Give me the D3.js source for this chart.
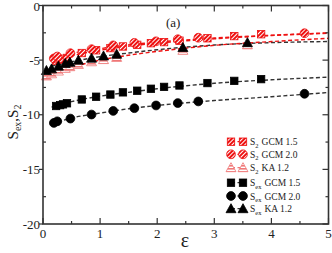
<!DOCTYPE html>
<html>
<head>
<meta charset="utf-8">
<script src="https://cdn.jsdelivr.net/npm/d3@7"></script>
<style>
  body { margin: 0; background: #fff; }
  svg text { font-family: "Liberation Serif", "DejaVu Serif", serif; fill: #222; }
</style>
</head>
<body>
<svg id="chart" width="332" height="253"></svg>
<script>
// ---- data ----
var xTicks = [0, 1, 2, 3, 4, 5];
var yTicks = [0, -5, -10, -15, -20];

// GCM 1.5 (squares)
var epsSq = [0.23, 0.30, 0.35, 0.42, 0.68, 0.93, 1.18, 1.40, 1.65, 1.89, 2.12, 2.39, 2.88, 3.35, 3.82];
var sexSq = [-9.2, -9.12, -9.05, -8.95, -8.6, -8.35, -8.15, -7.95, -7.8, -7.62, -7.45, -7.32, -7.1, -6.9, -6.74];
var s2Sq  = [-5.05, -4.95, -4.88, -4.8, -4.35, -4.1, -3.9, -3.75, -3.6, -3.45, -3.35, -3.22, -3.0, -2.8, -2.63];

// GCM 2.0 (circles)
var epsCi = [0.19, 0.25, 0.48, 0.85, 1.23, 1.6, 1.98, 2.36, 2.72, 4.58];
var sexCi = [-10.75, -10.6, -10.35, -9.98, -9.65, -9.4, -9.15, -8.93, -8.78, -8.08];
var s2Ci  = [-4.85, -4.67, -4.37, -4.0, -3.65, -3.42, -3.28, -3.09, -2.95, -2.54];

// KA 1.2 (triangles)
var epsTr = [0.06, 0.15, 0.27, 0.39, 0.47, 0.62, 0.85, 1.06, 1.29, 2.45, 3.58];
var sexTr = [-5.95, -5.8, -5.55, -5.3, -5.2, -5.0, -4.82, -4.62, -4.46, -3.85, -3.4];
var s2Tr  = [-6.45, -6.25, -6.0, -5.75, -5.6, -5.4, -5.15, -4.95, -4.75, -4.1, -3.6];

// dashed fit curves
var fitEps   = [0.15, 0.5, 1, 1.5, 2, 3, 4, 5];
var fitSexSq = [-9.3, -8.8, -8.3, -7.95, -7.62, -7.12, -6.8, -6.56];
var fitSexCi = [-10.85, -10.3, -9.85, -9.45, -9.15, -8.7, -8.35, -7.96];
var fitSexTr = [-5.55, -5.15, -4.68, -4.35, -4.05, -3.62, -3.4, -3.3];
var fitS2Sq  = [-5.1, -4.6, -4.1, -3.72, -3.45, -3.05, -2.75, -2.55];
var fitS2Ci  = [-4.95, -4.4, -3.95, -3.6, -3.35, -2.98, -2.72, -2.5];
var fitS2Tr  = [-6.5, -5.7, -5.0, -4.55, -4.2, -3.65, -3.3, -3.0];

var legendLabels = [
  {sub: "2", rest: "GCM 1.5"}, {sub: "2", rest: "GCM 2.0"}, {sub: "2", rest: "KA 1.2"},
  {sub: "ex", rest: "GCM 1.5"}, {sub: "ex", rest: "GCM 2.0"}, {sub: "ex", rest: "KA 1.2"}
];

var red = "#ee1111", pink = "#f07878", black = "#000";

var svg = d3.select("#chart");
var x = d3.scaleLinear().domain([0, 5]).range([43, 328.5]);
var y = d3.scaleLinear().domain([-20, 0]).range([224, 5.5]);

// hatch patterns
var defs = svg.append("defs");
function hatch(id, color, angle, bg, w) {
  var p = defs.append("pattern").attr("id", id)
    .attr("patternUnits", "userSpaceOnUse").attr("width", 3).attr("height", 3)
    .attr("patternTransform", "rotate(" + angle + ")");
  p.append("rect").attr("width", 3).attr("height", 3).attr("fill", bg);
  p.append("rect").attr("width", 3).attr("height", w).attr("fill", color);
}
hatch("hatchRed", red, -45, "#fff", 2.0);
hatch("hatchPink", pink, 0, "#fff", 1.6);

// ---- dashed fit lines ----
var line = d3.line().x(function(d) { return x(d[0]); }).y(function(d) { return y(d[1]); });
function fitLine(vals, color) {
  svg.append("path")
    .datum(fitEps.map(function(e, i) { return [e, vals[i]]; }))
    .attr("d", line.curve(d3.curveMonotoneX))
    .attr("fill", "none").attr("stroke", color)
    .attr("stroke-width", 1.4).attr("stroke-dasharray", "4,2.5");
}
fitLine(fitSexCi, "#333");
fitLine(fitSexSq, "#333");
fitLine(fitSexTr, "#333");
fitLine(fitS2Tr, red);
fitLine(fitS2Sq, red);
fitLine(fitS2Ci, red);

// ---- markers ----
function marker(g, shape, cx, cy, fill, stroke) {
  if (shape === "sq") {
    g.append("rect").attr("x", cx - 3.7).attr("y", cy - 3.7).attr("width", 7.4).attr("height", 7.4)
      .attr("fill", fill).attr("stroke", stroke).attr("stroke-width", 0.8);
  } else if (shape === "ci") {
    g.append("circle").attr("cx", cx).attr("cy", cy).attr("r", 4.4)
      .attr("fill", fill).attr("stroke", stroke).attr("stroke-width", 0.8);
  } else {
    var s = 5;
    g.append("path")
      .attr("d", "M" + cx + "," + (cy - s) + "L" + (cx + s) + "," + (cy + s * 0.8) + "L" + (cx - s) + "," + (cy + s * 0.8) + "Z")
      .attr("fill", fill).attr("stroke", stroke).attr("stroke-width", 0.8);
  }
}
function series(eps, vals, shape, fill, stroke) {
  var g = svg.append("g");
  eps.forEach(function(e, i) { marker(g, shape, x(e), y(vals[i]), fill, stroke); });
}
series(epsTr, s2Tr, "tr", "url(#hatchPink)", pink);
series(epsSq, s2Sq, "sq", "url(#hatchRed)", red);
series(epsCi, s2Ci, "ci", "url(#hatchRed)", red);
series(epsSq, sexSq, "sq", black, black);
series(epsCi, sexCi, "ci", black, black);
series(epsTr, sexTr, "tr", black, black);

// ---- axes frame and ticks ----
var axisColor = "#333";
svg.append("rect").attr("x", x(0)).attr("y", y(0))
  .attr("width", x(5) - x(0)).attr("height", y(-20) - y(0))
  .attr("fill", "none").attr("stroke", axisColor).attr("stroke-width", 1.6);

var xMinor = d3.range(0.5, 5, 1);
var yMinor = d3.range(-2.5, -20, -5);
var tk = svg.append("g").attr("stroke", axisColor).attr("stroke-width", 1.2);
xTicks.forEach(function(v) {
  tk.append("line").attr("x1", x(v)).attr("x2", x(v)).attr("y1", y(-20)).attr("y2", y(-20) - 6);
  tk.append("line").attr("x1", x(v)).attr("x2", x(v)).attr("y1", y(0)).attr("y2", y(0) + 6);
});
xMinor.forEach(function(v) {
  tk.append("line").attr("x1", x(v)).attr("x2", x(v)).attr("y1", y(-20)).attr("y2", y(-20) - 3);
  tk.append("line").attr("x1", x(v)).attr("x2", x(v)).attr("y1", y(0)).attr("y2", y(0) + 3);
});
yTicks.forEach(function(v) {
  tk.append("line").attr("x1", x(0) - 4).attr("x2", x(0)).attr("y1", y(v)).attr("y2", y(v));
  tk.append("line").attr("x1", x(5)).attr("x2", x(5) - 6).attr("y1", y(v)).attr("y2", y(v));
});
yMinor.forEach(function(v) {
  tk.append("line").attr("x1", x(0)).attr("x2", x(0) + 3).attr("y1", y(v)).attr("y2", y(v));
  tk.append("line").attr("x1", x(5)).attr("x2", x(5) - 3).attr("y1", y(v)).attr("y2", y(v));
});

svg.selectAll(".xl").data(xTicks).enter().append("text")
  .attr("x", function(d) { return x(d); }).attr("y", 238)
  .attr("text-anchor", "middle").attr("font-size", 13).text(function(d) { return d; });
svg.selectAll(".yl").data(yTicks).enter().append("text")
  .attr("x", 40).attr("y", function(d) { return Math.max(y(d) + 4.5, 11); })
  .attr("text-anchor", "end").attr("font-size", 13).text(function(d) { return d; });

// axis titles
svg.append("text").attr("x", 185).attr("y", 247).attr("text-anchor", "middle")
  .attr("font-size", 20).text("\u03b5");
var yt = svg.append("text").attr("transform", "translate(18,122) rotate(-90)")
  .attr("text-anchor", "middle").attr("font-size", 15);
yt.append("tspan").text("S");
yt.append("tspan").attr("font-size", 10).attr("dy", 3).text("ex");
yt.append("tspan").attr("dy", -3).text(",S");
yt.append("tspan").attr("font-size", 10).attr("dy", 3).text("2");

svg.append("text").attr("x", 166).attr("y", 27).attr("font-size", 13).text("(a)");

// ---- legend ----
var legRows = [141.7, 154.3, 167.7, 182.7, 196, 208.7];
var legStyle = [
  ["sq", "url(#hatchRed)", red], ["ci", "url(#hatchRed)", red], ["tr", "url(#hatchPink)", pink],
  ["sq", black, black], ["ci", black, black], ["tr", black, black]
];
var lg = svg.append("g");
legendLabels.forEach(function(l, i) {
  var yy = legRows[i], st = legStyle[i];
  lg.append("line").attr("x1", 231).attr("x2", 243).attr("y1", yy).attr("y2", yy)
    .attr("stroke", st[2] === black ? "#333" : st[2]).attr("stroke-width", 1.3).attr("stroke-dasharray", "4,2.5");
  marker(lg, st[0], 231, yy, st[1], st[2]);
  marker(lg, st[0], 243, yy, st[1], st[2]);
  var t = lg.append("text").attr("x", 250).attr("y", yy + 3.5).attr("font-size", 9.5);
  t.append("tspan").text("S");
  t.append("tspan").attr("font-size", 6.5).attr("dy", 2.5).text(l.sub);
  t.append("tspan").attr("dy", -2.5).attr("dx", 3).text(l.rest);
});
</script>
</body>
</html>
